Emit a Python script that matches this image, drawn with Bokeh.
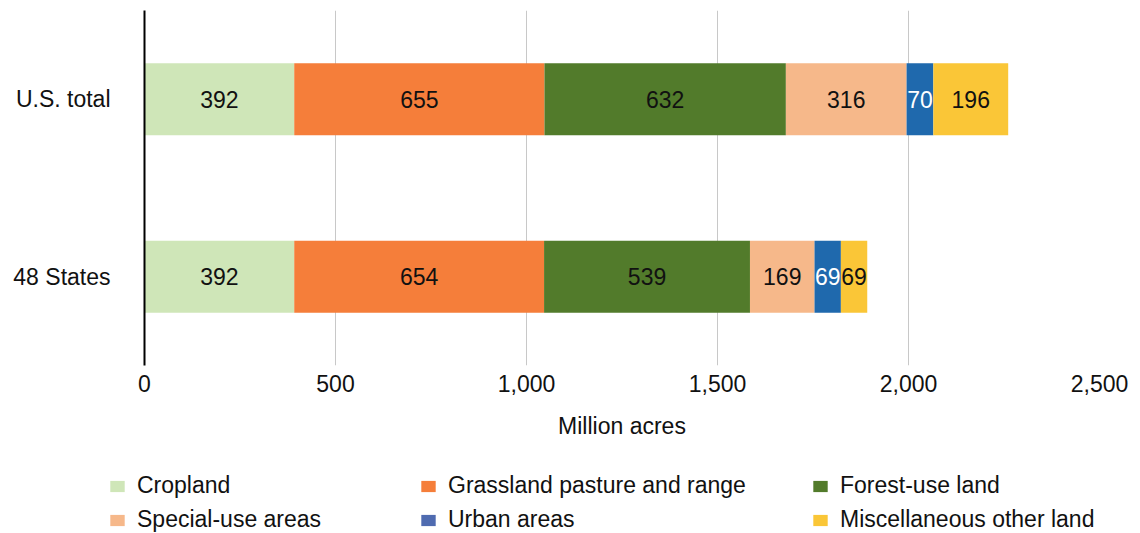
from bokeh.plotting import figure
from bokeh.layouts import column, row
from bokeh.models import (ColumnDataSource, FactorRange, Range1d, FixedTicker,
                          NumeralTickFormatter, Legend, LegendItem)
from bokeh.core.properties import value
from bokeh.embed import file_html
from bokeh.resources import INLINE

# Major uses of land, million acres
regions = ["48 States", "U.S. total"]
land_uses = ["Cropland", "Grassland pasture and range", "Forest-use land",
             "Special-use areas", "Urban areas", "Miscellaneous other land"]
cropland = [392, 392]
grassland = [654, 655]
forest = [539, 632]
special_use = [169, 316]
urban = [69, 70]
misc_other = [69, 196]
x_ticks = [0, 500, 1000, 1500, 2000, 2500]

bar_colors = ["#cfe6b8", "#f57e3a", "#527b2b", "#f6b88a", "#1f69ad", "#fac637"]
swatch_colors = ["#cfe6b8", "#f57e3a", "#527b2b", "#f6b88a", "#4f6bb0", "#fac637"]
label_colors = ["#111111", "#111111", "#111111", "#111111", "#ffffff", "#111111"]

FONT = "Liberation Sans"
FS = "23px"
keys = ["cropland", "grassland", "forest", "special_use", "urban", "misc_other"]
series = [cropland, grassland, forest, special_use, urban, misc_other]

source = ColumnDataSource(dict(region=regions, **dict(zip(keys, series))))

p = figure(width=1140, height=463, y_range=FactorRange(*regions),
           x_range=Range1d(0, 2500), output_backend="svg",
           toolbar_location=None, min_border_left=144, min_border_right=41,
           min_border_top=10, min_border_bottom=98)
p.outline_line_color = None

p.hbar_stack(keys, y="region", height=0.406, color=bar_colors,
             line_color=None, source=source)

# Value labels centred in each stacked segment
lx, ly, lt, lc = [], [], [], []
for j, reg in enumerate(regions):
    start = 0
    for s, col in zip(series, label_colors):
        v = s[j]
        lx.append(start + v / 2)
        ly.append(reg)
        lt.append(str(v))
        lc.append(col)
        start += v
labels = ColumnDataSource(dict(x=lx, y=ly, text=lt, color=lc))
p.text(x="x", y="y", text="text", text_color="color", source=labels,
       text_align="center", text_baseline="middle",
       text_font=value(FONT), text_font_size=FS)

# Axes
p.xaxis.ticker = FixedTicker(ticks=x_ticks)
p.xaxis.formatter = NumeralTickFormatter(format="0,0")
p.xaxis.axis_line_color = None
p.xaxis.major_tick_line_color = None
p.xaxis.minor_tick_line_color = None
p.xaxis.major_label_standoff = 3
p.xaxis.major_label_text_font = FONT
p.xaxis.major_label_text_font_size = FS
p.xaxis.major_label_text_color = "#111111"
p.xaxis.axis_label = "Million acres"
p.xaxis.axis_label_text_font = FONT
p.xaxis.axis_label_text_font_size = FS
p.xaxis.axis_label_text_font_style = "normal"
p.xaxis.axis_label_text_color = "#111111"
p.xaxis.axis_label_standoff = 18

p.yaxis.axis_line_color = "#000000"
p.yaxis.axis_line_width = 2
p.yaxis.major_tick_line_color = None
p.yaxis.minor_tick_line_color = None
p.yaxis.major_label_standoff = 28
p.yaxis.major_label_text_font = FONT
p.yaxis.major_label_text_font_size = FS
p.yaxis.major_label_text_color = "#111111"

p.xgrid.grid_line_color = "#c8c8c8"
p.xgrid.grid_line_width = 1
p.ygrid.grid_line_color = None

# Legend strip below the chart, three columns of two entries
lg = figure(width=1140, height=70, x_range=Range1d(0, 1), y_range=Range1d(0, 1),
            output_backend="svg", toolbar_location=None,
            x_axis_location=None, y_axis_location=None,
            min_border_left=0, min_border_right=0, min_border_top=0,
            min_border_bottom=0)
lg.outline_line_color = None
lg.grid.visible = False

# zero-size proxies, only their colours are shown in the legend
swatches = [lg.hbar(y=[-1], left=[0], right=[0], height=0, color=c,
                    line_color=None) for c in swatch_colors]

col_offsets = [108, 419, 811]
for k, xo in enumerate(col_offsets):
    items = [LegendItem(label=land_uses[k], renderers=[swatches[k]]),
             LegendItem(label=land_uses[k + 3], renderers=[swatches[k + 3]])]
    leg = Legend(items=items, location=(xo, 0), orientation="vertical",
                 glyph_width=18, glyph_height=14, label_standoff=11,
                 label_height=24, spacing=7, padding=0, margin=0,
                 border_line_color=None, background_fill_alpha=0,
                 label_text_font=FONT, label_text_font_size=FS,
                 label_text_color="#111111")
    lg.add_layout(leg, "center")

open("out.html", "w").write(file_html(column(p, row(lg), spacing=0), INLINE))
